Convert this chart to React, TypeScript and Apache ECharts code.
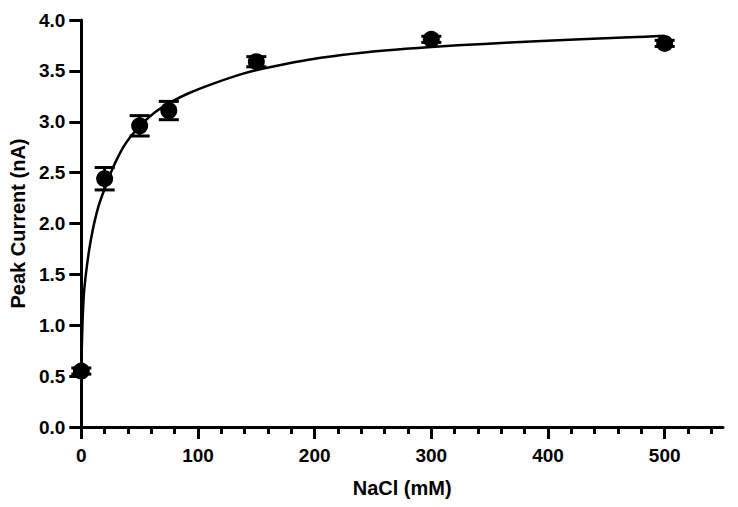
import React, { useEffect, useRef } from "react";
import * as echarts from "echarts";

// NaCl concentration (mM) of measured points
const concentrations = [0, 20, 50, 75, 150, 300, 500];
// Mean peak current (nA)
const currentMeans = [0.55, 2.44, 2.96, 3.11, 3.59, 3.81, 3.77];
// Error (± nA)
const currentErrors = [0.03, 0.11, 0.1, 0.09, 0.05, 0.03, 0.03];

// Fitted curve
const fitX = [0, 0.6, 1.2, 2.3, 3.5, 5, 7, 9.5, 12, 15, 18, 21, 25, 30, 36, 42, 52, 64, 78, 92, 112, 138, 155, 190, 223, 260, 300, 345, 390, 428, 470, 500];
const fitY = [0.56, 0.85, 1.08, 1.32, 1.46, 1.6, 1.76, 1.92, 2.05, 2.18, 2.28, 2.37, 2.49, 2.62, 2.75, 2.85, 2.98, 3.1, 3.2, 3.28, 3.37, 3.47, 3.52, 3.6, 3.655, 3.7, 3.735, 3.765, 3.79, 3.81, 3.83, 3.845];

// X axis ticks
const xTickValues = [0, 100, 200, 300, 400, 500];
const xMinorTickValues = [20, 40, 60, 80, 120, 140, 160, 180, 220, 240, 260, 280, 320, 340, 360, 380, 420, 440, 460, 480, 520, 540];

const FONT = "'Liberation Sans', Arial, Helvetica, sans-serif";

export default function App() {
  const ref = useRef<HTMLDivElement>(null);

  useEffect(() => {
    if (!ref.current) return;
    const chart = echarts.init(ref.current, undefined, { renderer: "svg" });

    const points = concentrations.map((x, i) => [x, currentMeans[i]]);
    const errData = concentrations.map((x, i) => [
      x,
      currentMeans[i] - currentErrors[i],
      currentMeans[i] + currentErrors[i],
    ]);
    const curve = fitX.map((x, i) => [x, fitY[i]]);

    const axisText = {
      color: "#000",
      fontSize: 19,
      fontWeight: "bold" as const,
      fontFamily: FONT,
    };

    chart.setOption({
      animation: false,
      backgroundColor: "#fff",
      grid: { left: 79, right: 15, top: 20, bottom: 80, containLabel: false },
      xAxis: [
        {
          type: "value",
          min: 0,
          max: 550,
          interval: 50,
          name: "NaCl (mM)",
          nameLocation: "middle",
          nameGap: 51,
          nameTextStyle: { ...axisText, fontSize: 20 },
          axisLine: { show: true, lineStyle: { color: "#000", width: 3 } },
          axisTick: {
            show: true,
            length: 12,
            customValues: xTickValues,
            lineStyle: { color: "#000", width: 3 },
          },
          axisLabel: {
            ...axisText,
            margin: 19,
            interval: 0,
            hideOverlap: false,
            showMaxLabel: true,
            formatter: (v: number) => (xTickValues.indexOf(v) >= 0 ? String(v) : ""),
          },
          splitLine: { show: false },
        },
        {
          type: "value",
          min: 0,
          max: 550,
          interval: 50,
          position: "bottom",
          axisLine: { show: false },
          axisTick: {
            show: true,
            length: 7,
            customValues: xMinorTickValues,
            lineStyle: { color: "#000", width: 3 },
          },
          axisLabel: { show: false },
          splitLine: { show: false },
        },
      ],
      yAxis: {
        type: "value",
        min: 0,
        max: 4,
        interval: 0.5,
        name: "Peak Current (nA)",
        nameLocation: "middle",
        nameGap: 48,
        nameTextStyle: { ...axisText, fontSize: 20 },
        axisLine: { show: true, lineStyle: { color: "#000", width: 3 } },
        axisTick: { show: true, length: 12, lineStyle: { color: "#000", width: 3 } },
        axisLabel: {
          ...axisText,
          margin: 16,
          formatter: (v: number) => v.toFixed(1),
        },
        splitLine: { show: false },
      },
      series: [
        {
          type: "line",
          data: curve,
          showSymbol: false,
          smooth: 0.3,
          lineStyle: { color: "#000", width: 2.5 },
          z: 3,
        },
        {
          type: "custom",
          data: errData,
          z: 4,
          renderItem: (params: any, api: any) => {
            const x = api.value(0);
            const lo = api.coord([x, api.value(1)]);
            const hi = api.coord([x, api.value(2)]);
            const hw = 10;
            const style = { stroke: "#000", lineWidth: 3 };
            return {
              type: "group",
              children: [
                { type: "line", shape: { x1: hi[0], y1: hi[1], x2: lo[0], y2: lo[1] }, style },
                { type: "line", shape: { x1: hi[0] - hw, y1: hi[1], x2: hi[0] + hw, y2: hi[1] }, style },
                { type: "line", shape: { x1: lo[0] - hw, y1: lo[1], x2: lo[0] + hw, y2: lo[1] }, style },
              ],
            };
          },
        },
        {
          type: "scatter",
          data: points,
          symbol: "circle",
          symbolSize: 17,
          itemStyle: { color: "#000", opacity: 1 },
          z: 5,
        },
      ],
    });

    return () => chart.dispose();
  }, []);

  return (
    <div
      ref={ref}
      style={{ position: "fixed", left: 0, top: 0, width: 738, height: 507, background: "#fff" }}
    />
  );
}
